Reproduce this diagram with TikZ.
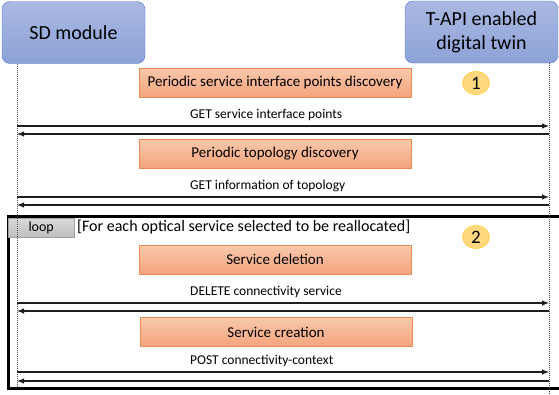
\documentclass[tikz,border=0pt]{standalone}
\usepackage{fontspec}
\setmainfont{Carlito}
\usepackage{xcolor}
\usepackage{tikz}
\usetikzlibrary{arrows.meta,shapes,positioning}
\definecolor{sdtop}{RGB}{170,185,226}
\definecolor{sdbot}{RGB}{140,162,215}
\definecolor{sdedge}{RGB}{79,119,200}
\definecolor{tasktop}{RGB}{249,200,172}
\definecolor{taskbot}{RGB}{244,164,124}
\definecolor{taskedge}{RGB}{238,138,78}
\definecolor{badgefill}{RGB}{255,216,128}
\definecolor{badgeedge}{RGB}{255,192,0}
\definecolor{tabtop}{RGB}{218,218,218}
\definecolor{tabbot}{RGB}{190,190,190}
\definecolor{tabedge}{RGB}{160,160,160}
\definecolor{msgline}{RGB}{30,30,30}

\begin{document}
\begin{tikzpicture}[x=1pt, y=-1pt,
    actor/.style={draw=sdedge, rounded corners=8pt, top color=sdtop, bottom color=sdbot, minimum width=#1, minimum height=62pt, inner sep=0pt, align=center, font=\fontsize{20}{24}\selectfont},
    task/.style={draw=taskedge, top color=tasktop, bottom color=taskbot, minimum width=272pt, minimum height=29pt, inner sep=0pt, font=\fontsize{15}{18}\selectfont},
    badge/.style={ellipse, draw=badgeedge, fill=badgefill, minimum width=27pt, minimum height=23pt, inner sep=0pt, font=\fontsize{19}{20}\selectfont},
    msg/.style={anchor=base west, inner sep=0pt, font=\fontsize{13.5}{16}\selectfont},
    arrow/.style={-{Latex[length=7pt,width=5.5pt]}, line width=1.1pt, draw=msgline},
    life/.style={dash pattern=on 1pt off 1pt, line width=0.7pt, draw=black!70}
]
\useasboundingbox (0,0) rectangle (559,394);

% Loop frame
\draw[line width=3pt] (8.5,216) rectangle (575,388.5);
\node[draw=tabedge, top color=tabtop, bottom color=tabbot, minimum width=66pt, minimum height=19pt, inner sep=0pt, anchor=north west, font=\fontsize{14}{16}\selectfont] (looptab) at (8,218) {loop};
\node[anchor=west, inner sep=0pt, font=\fontsize{16}{18}\selectfont] (guard) at (77,227) {[For each optical service selected to be reallocated]};

% Participants
\node[actor=143pt] (sd) at (73.5,32.5) {SD module};
\node[actor=153pt] (twin) at (481.5,32) {T-API enabled\\digital twin};

% Lifelines
\coordinate (sdtop) at (17,64);
\coordinate (sdend) at (17,388);
\coordinate (twtop) at (549,63);
\coordinate (twend) at (549,394);
\draw[life] (sdtop) -- (sdend);
\draw[life] (twtop) -- (twend);

% Discovery phase
\node[task] (sipdisc) at (275,82.5) {Periodic service interface points discovery};
\node[badge] (one) at (476,83) {1};
\node[msg] (sipget) at (190,118) {GET service interface points};
\node[task] (topodisc) at (275,153.5) {Periodic topology discovery};
\node[msg] (topoget) at (190,189) {GET information of topology};

% Reallocation phase
\node[badge] (two) at (476,237) {2};
\node[task] (svcdel) at (275,259.5) {Service deletion};
\node[msg] (delmsg) at (190,295) {DELETE connectivity service};
\node[task] (svccre) at (276,332) {Service creation};
\node[msg] (postmsg) at (190,364) {POST connectivity-context};

% Arrows
\foreach \y/\n in {126/a,197/b,303/c,372/d} {
  \coordinate (l\n) at (17,\y);
  \coordinate (r\n) at (549,\y);
  \draw[arrow] (l\n) -- (r\n);
}
\foreach \y/\n in {134/a,205/b,311/c,381/d} {
  \coordinate (rr\n) at (549,\y);
  \coordinate (ll\n) at (17,\y);
  \draw[arrow] (rr\n) -- (ll\n);
}
\end{tikzpicture}
\end{document}
